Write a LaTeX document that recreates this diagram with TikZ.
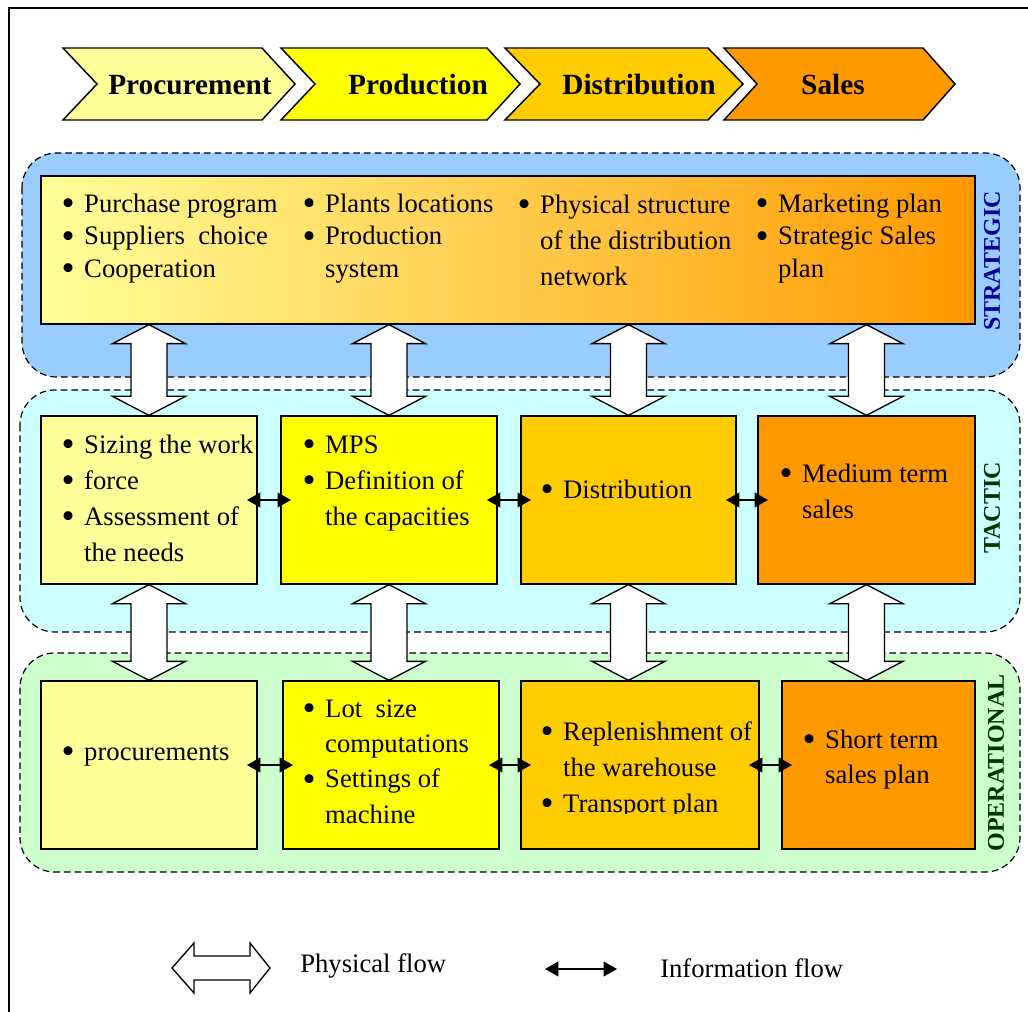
\documentclass[tikz,border=0pt]{standalone}
\usepackage{fontspec}
\setmainfont{Liberation Serif}
\usetikzlibrary{arrows.meta,calc,fit}

\definecolor{lightyel}{HTML}{FFFF99}
\definecolor{yel}{HTML}{FFFF00}
\definecolor{gold}{HTML}{FFCC00}
\definecolor{orng}{HTML}{FF9900}
\definecolor{midgrad}{HTML}{FFD877}
\definecolor{stratbg}{HTML}{99CCFF}
\definecolor{tactbg}{HTML}{CCFFFF}
\definecolor{operbg}{HTML}{CCFFCC}
\definecolor{navy}{HTML}{000099}
\definecolor{dkgreen}{HTML}{003300}

% bullet, hanging indent and first-line strut for the lists
\newcommand\bl{\makebox[17pt][l]{\smash{\raisebox{-2.6pt}{\scalebox{1.4}{\textbullet}}}}}
\newcommand\ind{\hspace*{17pt}}
\newcommand\fst{\rule{0pt}{15pt}}

% wide hollow double arrow between two tips on the same vertical
\newcommand\bigflow[2]{%
  \path[bigarrow] let \p1=(#1), \p2=(#2) in
    (\x1,\y1) -- ({\x1+27.4pt},{\y1-14.25pt}) -- ({\x1+13.5pt},{\y1-14.25pt})
    -- ({\x1+13.5pt},{\y2+14.25pt}) -- ({\x1+27.4pt},{\y2+14.25pt})
    -- (\x1,\y2) -- ({\x1-27.4pt},{\y2+14.25pt}) -- ({\x1-13.5pt},{\y2+14.25pt})
    -- ({\x1-13.5pt},{\y1-14.25pt}) -- ({\x1-27.4pt},{\y1-14.25pt}) -- cycle;}

\tikzset{
  layer/.style={draw, dash pattern=on 5pt off 3pt, line width=0.9pt, rounded corners=26pt},
  box/.style={draw, line width=1pt, inner sep=0pt},
  chev/.style={draw, line width=1.1pt, line join=miter},
  head/.style={font=\fontsize{22pt}{26pt}\selectfont\bfseries, inner sep=0pt, anchor=base},
  lst/.style={font=\fontsize{20pt}{#1}\selectfont, align=left, inner sep=0pt, anchor=north west},
  lst/.default=24.4pt,
  tier/.style={font=\fontsize{18pt}{20pt}\selectfont\bfseries, rotate=90, inner sep=0pt},
  info/.style={{Triangle[length=10pt,width=11pt]}-{Triangle[length=10pt,width=11pt]},
               line width=1.3pt, shorten <=-8pt, shorten >=-8pt},
  bigarrow/.style={draw, fill=white, line width=1pt, line join=miter},
  legend/.style={font=\fontsize{20pt}{24pt}\selectfont, inner sep=0pt, anchor=base west}
}

\begin{document}
\begin{tikzpicture}[x=0.75pt,y=-0.75pt]
\useasboundingbox (0,0) rectangle (1028,1012);

% frame
\draw[line width=1.1pt] (9,1012) -- (9,8) -- (1028,8);

% process chevrons
\draw[chev, fill=lightyel] (63,48) -- (262,48) -- (295,84) -- (262,120) -- (63,120) -- (97,84) -- cycle;
\draw[chev, fill=yel] (281,48) -- (487,48) -- (520,84) -- (487,120) -- (281,120) -- (315,84) -- cycle;
\draw[chev, fill=gold] (505,48) -- (708,48) -- (743,84) -- (708,120) -- (505,120) -- (540,84) -- cycle;
\draw[chev, fill=orng] (724,48) -- (923,48) -- (955,84) -- (923,120) -- (724,120) -- (757,84) -- cycle;
\node[head] (hP) at (190,95) {Procurement};
\node[head] (hR) at (418,95) {Production};
\node[head] (hD) at (639,95) {Distribution};
\node[head] (hS) at (833,95) {Sales};

% planning levels
\draw[layer, fill=stratbg] (22,153) rectangle (1020,377);
\draw[layer, fill=tactbg] (20,390) rectangle (1020,632);
\draw[layer, fill=operbg] (20,653) rectangle (1020,872);

% strategic box
\node[box, fit={(41,176) (975,324)}, left color=lightyel, middle color=midgrad, right color=orng] (S) {};
% tactic boxes
\node[box, fill=lightyel, fit={(41,416) (257,584)}] (T1) {};
\node[box, fill=yel, fit={(281,416) (497,584)}] (T2) {};
\node[box, fill=gold, fit={(521,416) (736,584)}] (T3) {};
\node[box, fill=orng, fit={(758,416) (975,584)}] (T4) {};
% operational boxes
\node[box, fill=lightyel, fit={(41,681) (257,849)}] (O1) {};
\node[box, fill=yel, fit={(283,681) (499,849)}] (O2) {};
\node[box, fill=gold, fit={(521,681) (759,849)}] (O3) {};
\node[box, fill=orng, fit={(782,681) (975,849)}] (O4) {};

% strategic contents
\node[lst] (s1) at (61.3,192) {\fst\bl Purchase program\\\bl Suppliers\ \ choice\\\bl Cooperation};
\node[lst] (s2) at (302.3,192) {\fst\bl Plants locations\\\bl Production\\\ind system};
\node[lst=27pt] (s3) at (517.3,193) {\fst\bl Physical structure\\\ind of the distribution\\\ind network};
\node[lst] (s4) at (755.3,192) {\fst\bl Marketing plan\\\bl Strategic Sales\\\ind plan};

% tactic contents
\node[lst=27pt] (t1) at (61.3,433) {\fst\bl Sizing the work\\\bl force\\\bl Assessment of\\\ind the needs};
\node[lst=27pt] (t2) at (302.3,433) {\fst\bl MPS\\\bl Definition of\\\ind the capacities};
\node[lst=27pt] (t3) at (540.3,478) {\fst\bl Distribution};
\node[lst=27pt] (t4) at (779.3,462) {\fst\bl Medium term\\\ind sales};

% operational contents
\node[lst] (o1) at (61.3,740) {\fst\bl procurements};
\node[lst=26.5pt] (o2) at (302.3,697) {\fst\bl Lot\ \ size\\\ind computations\\\bl Settings of\\\ind machine};
\begin{scope}
  \clip (521,681) rectangle (759,813);
  \node[lst=27pt] (o3) at (540.3,720) {\fst\bl Replenishment of\\\ind the warehouse\\\bl Transport plan};
\end{scope}
\node[lst=26.3pt] (o4) at (802.3,728) {\fst\bl Short term\\\ind sales plan};

% physical flows between levels
\bigflow{S.south -| T1.north}{T1.north}
\bigflow{S.south -| T2.north}{T2.north}
\bigflow{S.south -| T3.north}{T3.north}
\bigflow{S.south -| T4.north}{T4.north}
\bigflow{T1.south}{T1.south |- O1.north}
\bigflow{T2.south}{T2.south |- O2.north}
\bigflow{T3.south}{T3.south |- O3.north}
\bigflow{T4.south}{T4.south |- O4.north}

% information flows within levels
\draw[info] (T1.east) -- (T2.west);
\draw[info] (T2.east) -- (T3.west);
\draw[info] (T3.east) -- (T4.west);
\draw[info] (O1.east) -- (O2.west);
\draw[info] (O2.east) -- (O3.west);
\draw[info] (O3.east) -- (O4.west);

% level names
\node[tier, text=navy] (lS) at (992,261) {STRATEGIC};
\node[tier, text=dkgreen] (lT) at (992,508) {TACTIC};
\node[tier, text=dkgreen] (lO) at (996,763) {OPERATIONAL};

% legend
\draw[bigarrow] (172,968) -- (194,943) -- (194,956) -- (250,956) -- (250,943) -- (270,968)
  -- (250,993) -- (250,980) -- (194,980) -- (194,993) -- cycle;
\node[legend] (lp) at (300,972) {Physical flow};
\coordinate (ia) at (545,969);
\coordinate (ib) at (617,969);
\draw[info, shorten <=0pt, shorten >=0pt] (ia) -- (ib);
\node[legend] (li) at (660,977) {Information flow};
\end{tikzpicture}
\end{document}
